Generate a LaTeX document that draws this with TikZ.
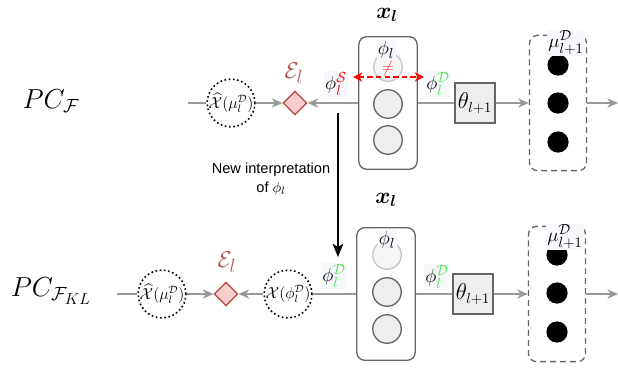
\documentclass[tikz,border=0pt]{standalone}
\usepackage{amsmath}
\usepackage{bm}
\usepackage{fontspec}
\setsansfont{Liberation Sans}
\usetikzlibrary{arrows.meta,shapes.geometric}
\definecolor{lnGray}{HTML}{999999}
\definecolor{boxGray}{HTML}{666666}
\definecolor{cellFill}{HTML}{EEEEEE}
\definecolor{errRed}{HTML}{B85450}
\definecolor{errFill}{HTML}{F8CECC}
\definecolor{dGreen}{HTML}{4CE44C}
\definecolor{lblBg}{HTML}{F6F8FB}
\begin{document}
\begin{tikzpicture}[x=0.0265cm, y=0.0265cm,
        gline/.style={draw=lnGray, line width=1.1pt},
        garrow/.style={gline, -{Stealth[length=8pt,width=7pt,inset=2.5pt]}},
        karrow/.style={draw=black, line width=1.4pt, -{Stealth[length=10pt,width=8pt,inset=2.5pt]}},
        sarrow/.style={draw=red, line width=1.4pt, dash pattern=on 4pt off 2.5pt, {Stealth[length=7pt,width=7pt]}-{Stealth[length=7pt,width=7pt]}},
        dotcirc/.style={circle, draw=black, dotted, line width=1.2pt, minimum size=36pt},
        errdia/.style={diamond, aspect=1, draw=errRed, fill=errFill, line width=1pt, minimum size=18pt},
        layerbox/.style={rectangle, rounded corners=6pt, draw=boxGray, fill=white, line width=1pt, minimum width=44pt, minimum height=100pt},
        cell/.style={circle, draw=boxGray, fill=cellFill, line width=1pt, minimum size=21.5pt},
        cellfaint/.style={cell, draw=gray!45, fill=gray!7},
        thbox/.style={rectangle, draw=boxGray, fill=cellFill, line width=1pt, minimum size=30pt, font=\fontsize{16}{18}\selectfont},
        dashbox/.style={rectangle, rounded corners=6pt, draw=boxGray, line width=1pt, dash pattern=on 4.5pt off 3pt, minimum width=43pt, minimum height=102pt},
        ddot/.style={circle, fill=black, minimum size=16pt},
        lbl/.style={fill=lblBg, inner sep=1pt, font=\fontsize{15}{17}\selectfont},
        circtxt/.style={font=\fontsize{12}{14}\selectfont},
        errlbl/.style={text=errRed, font=\fontsize{19}{22}\selectfont},
        laylbl/.style={font=\fontsize{17}{20}\selectfont}]
        \tikzstyle{every node}+=[inner sep=0pt]
        \useasboundingbox (0,0) rectangle (618,-368);
        \draw (51,-101) node (pcA) {\huge $PC_{\mathcal{F}}$};
        \coordinate (inA) at (188,-103);
        \draw (231,-103) node [dotcirc] (hatA) {};
        \draw (231,-103) node [circtxt] (hatAtxt) {$\widehat{\mathcal{X}}(\mu_l^{\mathcal{D}})$};
        \draw (295,-103) node [errdia] (errA) {};
        \draw (294,-73) node [errlbl] (elA) {$\mathcal{E}_l$};
        \draw (388,-103) node [layerbox] (boxA) {};
        \draw (388,-67) node [cellfaint] (cA1) {};
        \draw (388,-104) node [cell] (cA2) {};
        \draw (388,-140) node [cell] (cA3) {};
        \draw (386,-50) node [lbl] (phA) {$\phi_l$};
        \draw (388,-69) node (neqA) {\fontsize{13}{15}\selectfont\textcolor{red!80}{$\neq$}};
        \draw (387,-15) node [laylbl] (xA) {$\bm{x_l}$};
        \draw (336,-84) node [lbl] (phSA) {$\phi_l^{\color{red}\mathcal{S}}$};
        \draw (438,-84) node [lbl] (phDA) {$\phi_l^{\color{dGreen}\mathcal{D}}$};
        \draw (475,-103) node [thbox] (thA) {$\theta_{l+1}$};
        \draw (558,-103) node [dashbox] (dashA) {};
        \draw (558,-65) node [ddot] (dA1) {};
        \draw (558,-103) node [ddot] (dA2) {};
        \draw (558,-142) node [ddot] (dA3) {};
        \draw (566,-43) node [lbl] (muA) {$\mu_{l+1}^{\mathcal{D}}$};
        \coordinate (outA) at (618,-103);
        \draw [gline] (inA) -- (hatA);
        \draw [garrow] (hatA) -- (errA);
        \draw [garrow] (boxA) -- (errA);
        \draw [gline] (boxA) -- (thA);
        \draw [garrow] (thA) -- (dashA);
        \draw [garrow] (dashA) -- (outA);
        \coordinate (sL) at (353,-77);
        \coordinate (sR) at (424,-77);
        \draw [sarrow] (sL) -- (sR);
        \coordinate (ntTop) at (338,-113);
        \coordinate (ntBot) at (338,-257);
        \draw [karrow] (ntTop) -- (ntBot);
        \draw (271,-179) node [align=center, font=\sffamily\fontsize{11}{14}\selectfont] (ntTxt) {New interpretation\\of $\phi_l$};
        \draw (51,-291) node (pcB) {\huge $PC_{\mathcal{F}_{KL}}$};
        \coordinate (inB) at (117,-294);
        \draw (162,-294) node [dotcirc] (hatB) {};
        \draw (162,-294) node [circtxt] (hatBtxt) {$\widehat{\mathcal{X}}(\mu_l^{\mathcal{D}})$};
        \draw (226,-294) node [errdia] (errB) {};
        \draw (227,-262) node [errlbl] (elB) {$\mathcal{E}_l$};
        \draw (288,-294) node [dotcirc] (chiB) {};
        \draw (288,-294) node [circtxt] (chiBtxt) {$\mathcal{X}(\phi_l^{\mathcal{D}})$};
        \draw (386,-294) node [layerbox] (boxB) {};
        \draw (387,-255) node [cellfaint] (cB1) {};
        \draw (387,-292) node [cell] (cB2) {};
        \draw (387,-329) node [cell] (cB3) {};
        \draw (387,-240) node [lbl] (phB) {$\phi_l$};
        \draw (386,-200) node [laylbl] (xB) {$\bm{x_l}$};
        \draw (334,-276) node [lbl] (phDB1) {$\phi_l^{\color{dGreen}\mathcal{D}}$};
        \draw (437,-277) node [lbl] (phDB2) {$\phi_l^{\color{dGreen}\mathcal{D}}$};
        \draw (473,-294) node [thbox] (thB) {$\theta_{l+1}$};
        \draw (557,-294) node [dashbox] (dashB) {};
        \draw (557,-255) node [ddot] (dB1) {};
        \draw (557,-293) node [ddot] (dB2) {};
        \draw (557,-332) node [ddot] (dB3) {};
        \draw (565,-237) node [lbl] (muB) {$\mu_{l+1}^{\mathcal{D}}$};
        \coordinate (outB) at (618,-294);
        \draw [gline] (inB) -- (hatB);
        \draw [garrow] (hatB) -- (errB);
        \draw [garrow] (chiB) -- (errB);
        \draw [gline] (boxB) -- (chiB);
        \draw [gline] (boxB) -- (thB);
        \draw [garrow] (thB) -- (dashB);
        \draw [garrow] (dashB) -- (outB);
\end{tikzpicture}
\end{document}
